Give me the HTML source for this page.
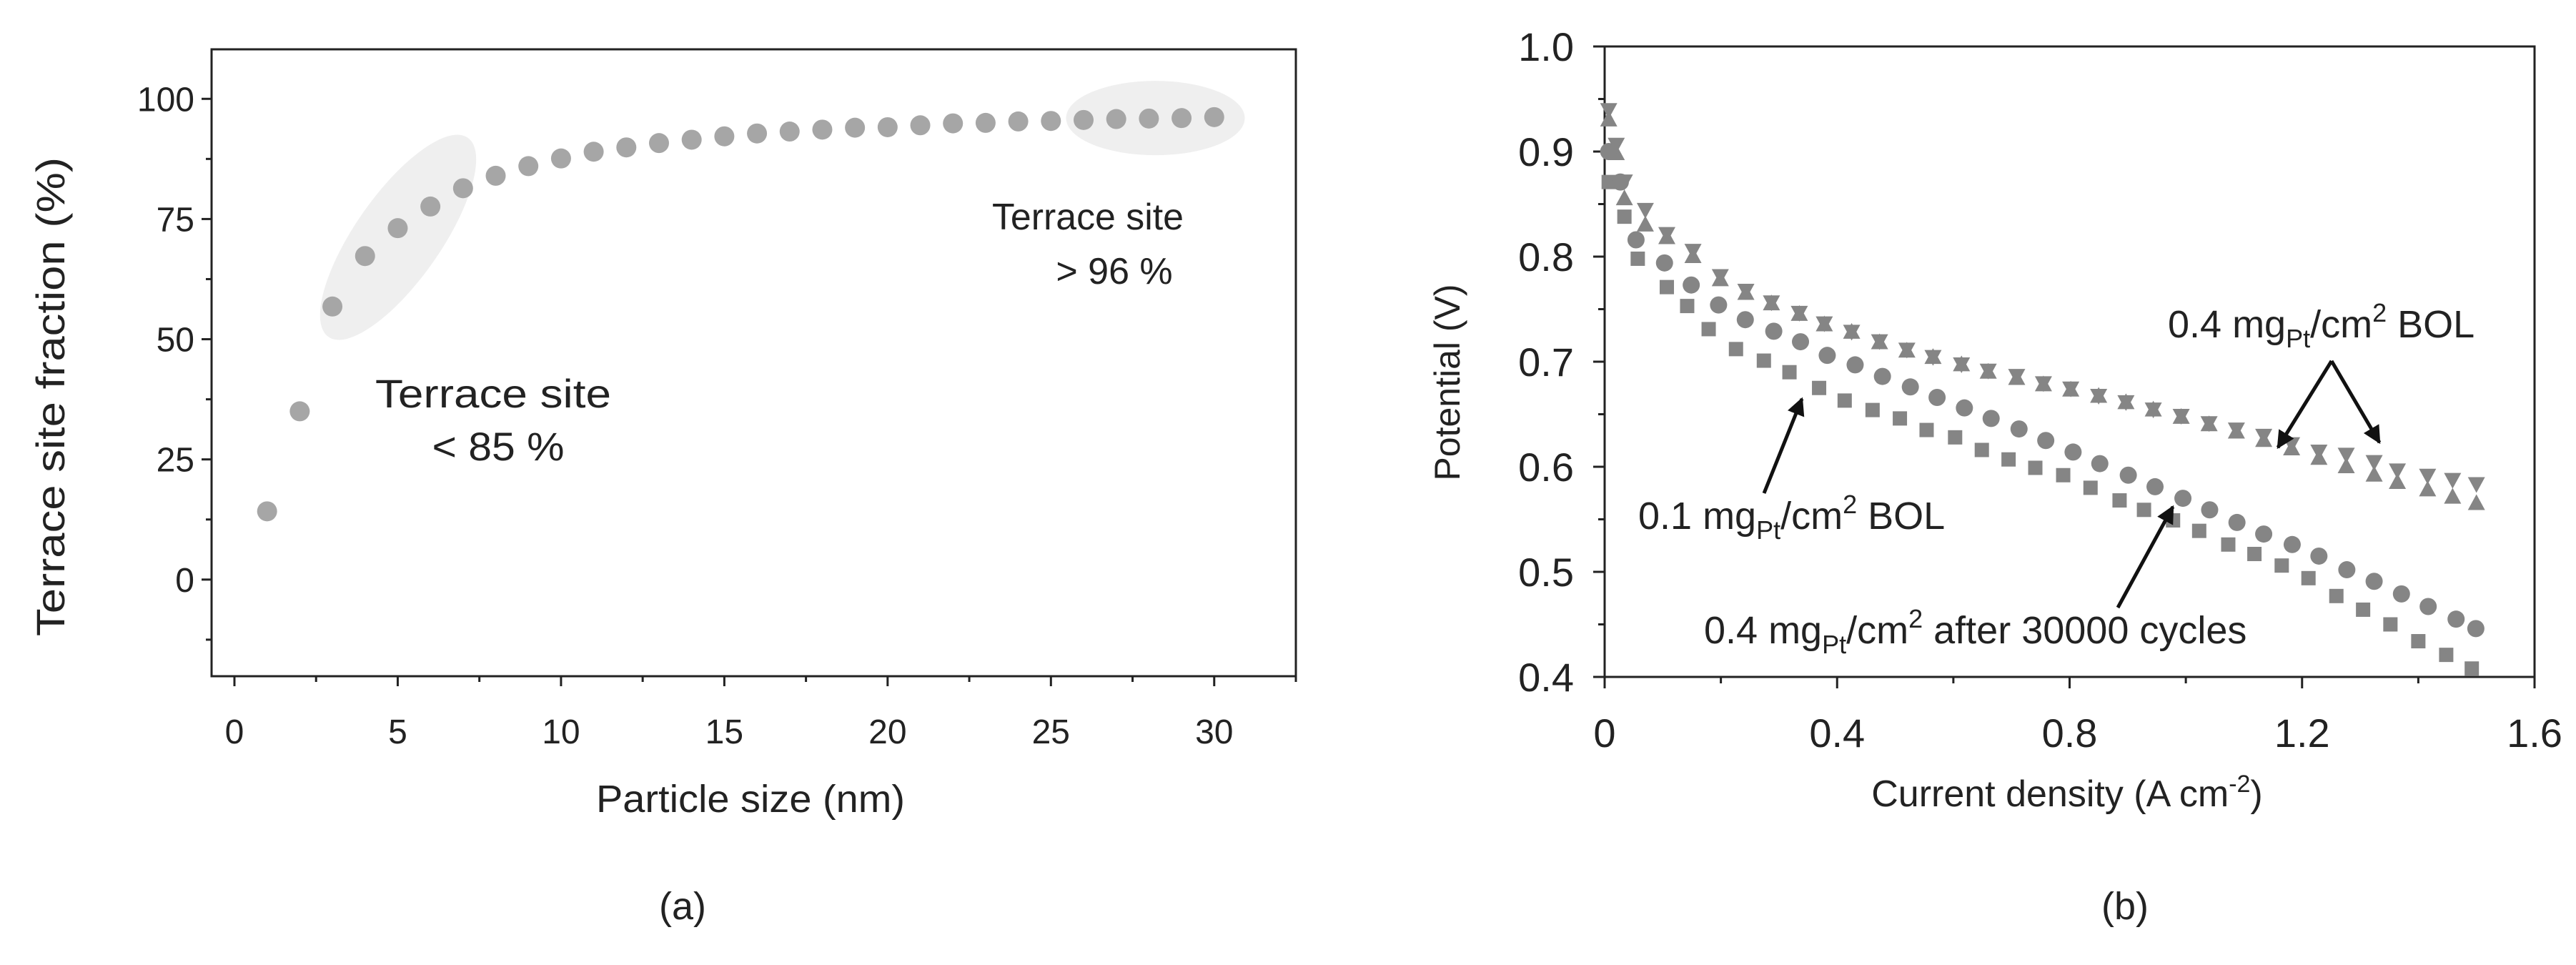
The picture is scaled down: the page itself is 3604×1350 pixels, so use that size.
<!DOCTYPE html>
<html><head><meta charset="utf-8"><style>
html,body{margin:0;padding:0;background:#fff}
svg{display:block}
text{font-family:"Liberation Sans",Arial,sans-serif;fill:#222}
</style></head><body>
<svg id="s" width="3604" height="1350" viewBox="0 0 3604 1350" xmlns="http://www.w3.org/2000/svg">
<g id="ga"></g>
<g id="gb"></g>
</svg>
<script>
// Chart (a) data
const aSizes=[1,2,3,4,5,6,7,8,9,10,11,12,13,14,15,16,17,18,19,20,21,22,23,24,25,26,27,28,29,30];
const aFraction=[14.2,35,56.8,67.3,73.1,77.6,81.4,84,86,87.6,89,89.9,90.8,91.5,92.2,92.8,93.2,93.6,94,94.1,94.5,94.9,95,95.3,95.4,95.6,95.8,95.9,96,96.2];
const aXTicks=[0,5,10,15,20,25,30];
const aYTicks=[0,25,50,75,100];
// Chart (b) data
const sqX=[.007,.034,.057,.107,.142,.179,.226,.274,.318,.369,.413,.461,.508,.554,.603,.649,.695,.741,.789,.836,.886,.928,.978,1.023,1.073,1.118,1.165,1.211,1.259,1.305,1.352,1.4,1.448,1.492];
const sqY=[.871,.838,.798,.771,.753,.731,.712,.701,.69,.675,.663,.654,.646,.635,.628,.616,.607,.599,.592,.58,.568,.559,.549,.539,.526,.517,.506,.494,.477,.464,.45,.434,.421,.408];
const ciX=[.007,.027,.054,.103,.149,.196,.242,.291,.337,.383,.431,.478,.526,.572,.619,.665,.713,.759,.806,.852,.901,.947,.995,1.041,1.088,1.134,1.183,1.229,1.277,1.324,1.371,1.417,1.465,1.499];
const ciY=[.9,.871,.816,.794,.773,.754,.74,.729,.719,.706,.697,.686,.676,.666,.656,.646,.636,.625,.614,.603,.592,.581,.57,.559,.547,.536,.526,.515,.502,.491,.479,.467,.455,.446];
const trX=[.007,.02,.034,.07,.107,.152,.199,.243,.287,.335,.378,.425,.473,.52,.565,.614,.66,.709,.755,.802,.85,.897,.944,.992,1.04,1.087,1.134,1.182,1.229,1.276,1.324,1.364,1.416,1.459,1.5];
const upY=[.93,.898,.855,.83,.818,.80,.778,.765,.755,.745,.735,.728,.718,.71,.704,.697,.69,.684,.678,.673,.667,.661,.654,.647,.64,.633,.625,.617,.608,.6,.592,.585,.578,.571,.565];
const downY=[.94,.907,.872,.845,.822,.806,.782,.768,.757,.747,.737,.729,.72,.712,.705,.698,.692,.687,.68,.675,.668,.662,.655,.649,.642,.636,.63,.622,.615,.612,.605,.597,.592,.588,.584];
const bXTicks=[0,0.4,0.8,1.2,1.6];
const bYTicks=[0.4,0.5,0.6,0.7,0.8,0.9,1.0];

const NS="http://www.w3.org/2000/svg";
function mk(p,tag,attrs,txt){const e=document.createElementNS(NS,tag);for(const k in attrs)e.setAttribute(k,attrs[k]);if(txt!==undefined)e.textContent=txt;p.appendChild(e);return e;}

// ---------- Chart A ----------
const ga=document.getElementById('ga');
const A={l:296,r:1813,t:69,b:946,x0:-0.7,x1:32.5,y0:-20.1,y1:110.3};
const ax=v=>A.l+(v-A.x0)/(A.x1-A.x0)*(A.r-A.l);
const ay=v=>A.b-(v-A.y0)/(A.y1-A.y0)*(A.b-A.t);
let e;
e=mk(ga,'ellipse',{cx:557,cy:332,rx:170,ry:60,transform:'rotate(-55 557 332)',fill:'#efefef'});


e=mk(ga,'ellipse',{cx:ax(28.2),cy:ay(96),rx:125,ry:52,fill:'#efefef'});


e=mk(ga,'rect',{x:A.l,y:A.t,width:A.r-A.l,height:A.b-A.t,fill:'none',stroke:'#222','stroke-width':3});


for(let v=-12.5;v<=100;v+=12.5){const maj=v%25===0;mk(ga,'line',{x1:A.l,x2:A.l-(maj?14:8),y1:ay(v),y2:ay(v),stroke:'#222','stroke-width':3});}
aYTicks.forEach(v=>{e=mk(ga,'text',{x:272,y:ay(v)+17,'text-anchor':'end','font-size':48},v);

});
for(let v=0;v<=32.5;v+=2.5){const maj=v%5===0;mk(ga,'line',{x1:ax(v),x2:ax(v),y1:A.b,y2:A.b+(maj?14:8),stroke:'#222','stroke-width':3});}
aXTicks.forEach(v=>{e=mk(ga,'text',{x:ax(v),y:1040,'text-anchor':'middle','font-size':48},v);

});
aSizes.forEach((s,i)=>{e=mk(ga,'circle',{cx:ax(s),cy:ay(aFraction[i]),r:14,fill:'#a6a6a6'});

});
e=mk(ga,'text',{x:1050,y:1136,'text-anchor':'middle','font-size':54,textLength:432,lengthAdjust:'spacingAndGlyphs'},'Particle size (nm)');


e=mk(ga,'text',{x:0,y:0,'text-anchor':'middle','font-size':56,textLength:670,lengthAdjust:'spacingAndGlyphs',transform:'translate(90 555) rotate(-90)'},'Terrace site fraction (%)');


e=mk(ga,'text',{x:690,y:570,'text-anchor':'middle','font-size':56,textLength:330,lengthAdjust:'spacingAndGlyphs'},'Terrace site');


e=mk(ga,'text',{x:697,y:644,'text-anchor':'middle','font-size':56,textLength:185,lengthAdjust:'spacingAndGlyphs'},'< 85 %');


e=mk(ga,'text',{x:1522,y:321,'text-anchor':'middle','font-size':52,textLength:268,lengthAdjust:'spacingAndGlyphs'},'Terrace site');


e=mk(ga,'text',{x:1559,y:397,'text-anchor':'middle','font-size':52},'> 96 %');


e=mk(ga,'text',{x:955,y:1286,'text-anchor':'middle','font-size':54},'(a)');



// ---------- Chart B ----------
const gb=document.getElementById('gb');
const B={l:2245,r:3546,t:65,b:947,x0:0,x1:1.6,y0:0.4,y1:1.0};
const bx=v=>B.l+(v-B.x0)/(B.x1-B.x0)*(B.r-B.l);
const by=v=>B.b-(v-B.y0)/(B.y1-B.y0)*(B.b-B.t);
e=mk(gb,'rect',{x:B.l,y:B.t,width:B.r-B.l,height:B.b-B.t,fill:'none',stroke:'#222','stroke-width':3});


for(let i=0;i<=12;i++){const v=0.4+i*0.05;const maj=i%2===0;mk(gb,'line',{x1:B.l,x2:B.l-(maj?16:9),y1:by(v),y2:by(v),stroke:'#222','stroke-width':3});}
bYTicks.forEach(v=>{e=mk(gb,'text',{x:2202,y:by(v)+20,'text-anchor':'end','font-size':56},v.toFixed(1));

});
for(let i=0;i<=8;i++){const v=i*0.2;const maj=i%2===0;mk(gb,'line',{x1:bx(v),x2:bx(v),y1:B.b,y2:B.b+(maj?16:9),stroke:'#222','stroke-width':3});}
bXTicks.forEach(v=>{e=mk(gb,'text',{x:bx(v),y:1045,'text-anchor':'middle','font-size':56},v===0?'0':v.toFixed(1));

});
const mc='#858585';
sqX.forEach((x,i)=>{const cx=bx(x),cy=by(sqY[i]);e=mk(gb,'rect',{x:cx-10,y:cy-10,width:20,height:20,fill:mc});

});
ciX.forEach((x,i)=>{e=mk(gb,'circle',{cx:bx(x),cy:by(ciY[i]),r:12,fill:mc});

});
trX.forEach((x,i)=>{const cx=bx(x),cy=by(upY[i]);e=mk(gb,'polygon',{points:`${cx},${cy-13} ${cx-12},${cy+9} ${cx+12},${cy+9}`,fill:mc});

});
trX.forEach((x,i)=>{const cx=bx(x),cy=by(downY[i]);e=mk(gb,'polygon',{points:`${cx},${cy+13} ${cx-12},${cy-9} ${cx+12},${cy-9}`,fill:mc});

});
const defs=mk(gb,'defs',{});
const mrk=mk(defs,'marker',{id:'ah',viewBox:'0 0 10 10',refX:9,refY:5,markerWidth:5,markerHeight:5,orient:'auto'});
mk(mrk,'path',{d:'M0,0 L10,5 L0,10 z',fill:'#111'});
function arrow(x1,y1,x2,y2,name){e=mk(gb,'line',{x1,y1,x2,y2,stroke:'#111','stroke-width':5,'marker-end':'url(#ah)'});

}
arrow(3262,505,3187,626,'arrow-bol-left');
arrow(3262,505,3329,619,'arrow-bol-right');
arrow(2468,690,2521,558,'arrow-0.1-bol');
arrow(2963,850,3040,709,'arrow-after-cycles');
function lbl(x,y,pre,post,name){e=mk(gb,'text',{x,y,'font-size':54});


e.innerHTML=pre+'<tspan font-size="36" dy="14">Pt</tspan><tspan dy="-14">/cm</tspan><tspan font-size="36" dy="-22">2</tspan><tspan dy="22">'+post+'</tspan>';}
lbl(3033,472,'0.4 mg',' BOL','label-0.4-bol');
lbl(2292,740,'0.1 mg',' BOL','label-0.1-bol');
lbl(2384,900,'0.4 mg',' after 30000 cycles','label-after-cycles');
e=mk(gb,'text',{x:2892,y:1128,'text-anchor':'middle','font-size':52});


e.innerHTML='Current density (A cm<tspan font-size="34" dy="-20">-2</tspan><tspan dy="20">)</tspan>';
e=mk(gb,'text',{x:0,y:0,'text-anchor':'middle','font-size':50,transform:'translate(2042 535) rotate(-90)'},'Potential (V)');


e=mk(gb,'text',{x:2973,y:1286,'text-anchor':'middle','font-size':54},'(b)');


</script>
</body></html>
